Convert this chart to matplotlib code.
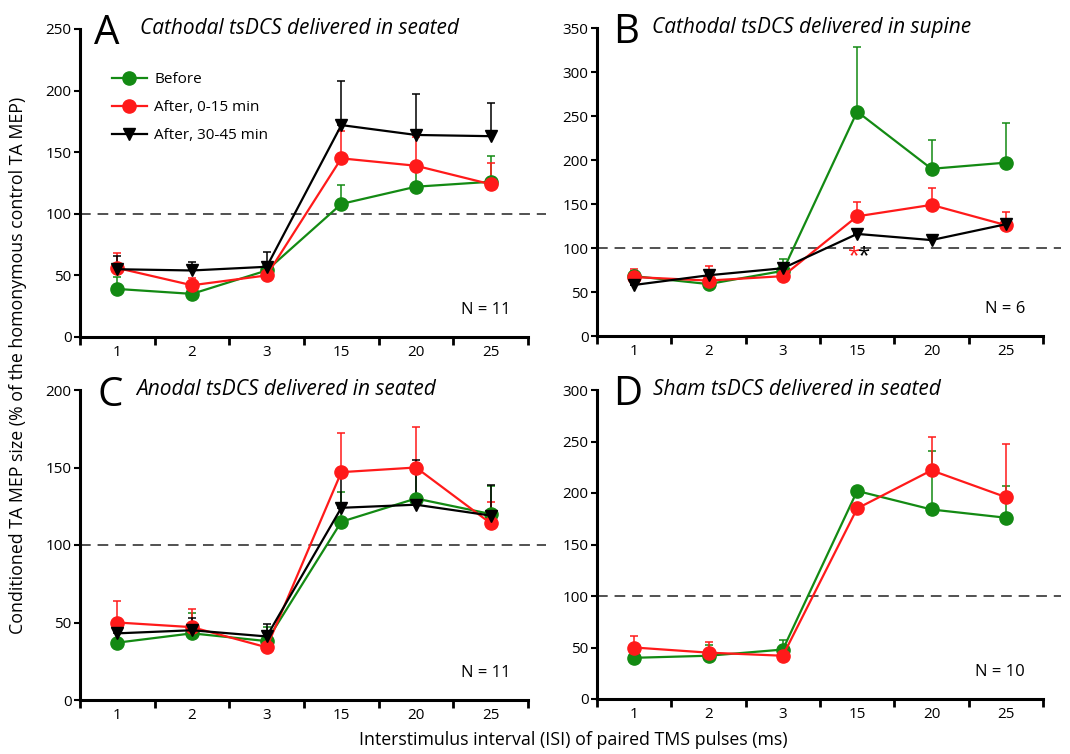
import matplotlib
matplotlib.use("Agg")
import matplotlib.pyplot as plt
import numpy as np

plt.rcParams['font.family'] = ['Open Sans', 'DejaVu Sans']

isi_labels = ["1", "2", "3", "15", "20", "25"]

# Panel A: Cathodal tsDCS seated (N=11)
A_before = [39, 35, 54, 108, 122, 126]
A_before_err = [10, 0, 0, 15, 16, 21]
A_after0 = [56, 42, 50, 145, 139, 124]
A_after0_err = [12, 6, 0, 22, 23, 17]
A_after30 = [55, 54, 57, 172, 164, 163]
A_after30_err = [11, 7, 12, 36, 33, 27]

# Panel B: Cathodal tsDCS supine (N=6)
B_before = [68, 59, 74, 255, 190, 197]
B_before_err = [6, 0, 13, 73, 33, 45]
B_after0 = [67, 63, 68, 136, 149, 126]
B_after0_err = [9, 16, 0, 16, 19, 15]
B_after30 = [58, 69, 77, 116, 109, 127]
B_after30_err = [0, 0, 0, 0, 0, 0]

# Panel C: Anodal tsDCS seated (N=11)
C_before = [37, 43, 38, 115, 130, 120]
C_before_err = [0, 13, 9, 19, 20, 18]
C_after0 = [50, 47, 34, 147, 150, 114]
C_after0_err = [14, 12, 0, 25, 26, 14]
C_after30 = [43, 45, 41, 124, 126, 119]
C_after30_err = [9, 8, 8, 26, 29, 20]

# Panel D: Sham tsDCS seated (N=10)
D_before = [40, 42, 48, 202, 184, 176]
D_before_err = [0, 10, 9, 0, 57, 31]
D_after0 = [50, 45, 42, 185, 222, 196]
D_after0_err = [11, 10, 0, 0, 32, 52]

GREEN = "#138a13"
RED = "#ff1a1a"
BLACK = "#000000"

x = np.arange(len(isi_labels)) + 0.5

fig = plt.figure(figsize=(10.7, 7.54), dpi=100)

W = 1070.0
H = 754.0
def ax_rect(left, right, top, bottom):
    return [left / W, 1 - bottom / H, (right - left) / W, (bottom - top) / H]

axA = fig.add_axes(ax_rect(80, 528, 29, 337))
axB = fig.add_axes(ax_rect(597, 1043, 28, 336))
axC = fig.add_axes(ax_rect(80, 528, 390, 700))
axD = fig.add_axes(ax_rect(597, 1043, 390, 699))


def draw_series(ax, vals, errs, color, marker, label):
    zero = np.zeros(len(errs))
    ax.errorbar(x, vals, yerr=[zero, errs], fmt='none', ecolor=color,
                elinewidth=1.1, capsize=3, capthick=1.1, zorder=2)
    ax.plot(x, vals, color=color, marker=marker, markersize=9.5 if marker == 'o' else 9,
            linewidth=1.6, label=label, zorder=3)


def style(ax, ymax, letter, title, ntext, letter_x, title_x):
    ax.set_xlim(0, 6)
    ax.set_ylim(0, ymax)
    ax.set_yticks(np.arange(0, ymax + 1, 50))
    ax.set_xticks(x)
    ax.set_xticklabels(isi_labels)
    ax.set_xticks(np.arange(0, 7), minor=True)
    ax.tick_params(axis='x', which='major', length=0, labelsize=11, pad=6)
    ax.tick_params(axis='x', which='minor', length=6, width=2, direction='out')
    ax.tick_params(axis='y', which='major', length=4, width=1.5, direction='out', labelsize=11, pad=2)
    for s in ['top', 'right']:
        ax.spines[s].set_visible(False)
    for s in ['left', 'bottom']:
        ax.spines[s].set_linewidth(2.2)
    ax.plot([0, 1.04], [100, 100], transform=ax.get_yaxis_transform(), clip_on=False,
            color='#222222', linestyle=(0, (7, 4.5)), linewidth=1.1, zorder=1)
    ax.text(letter_x, 0.95, letter, transform=ax.transAxes, fontsize=29,
            ha='left', va='baseline')
    ax.text(title_x, 0.985, title, transform=ax.transAxes, fontsize=15,
            style='italic', ha='left', va='baseline')
    ax.text(0.96, 0.075, ntext, transform=ax.transAxes, fontsize=12,
            ha='right', va='baseline')


# A
draw_series(axA, A_before, A_before_err, GREEN, 'o', 'Before')
draw_series(axA, A_after0, A_after0_err, RED, 'o', 'After, 0-15 min')
draw_series(axA, A_after30, A_after30_err, BLACK, 'v', 'After, 30-45 min')
style(axA, 250, 'A', 'Cathodal tsDCS delivered in seated', 'N = 11', 0.032, 0.134)
axA.legend(loc='upper left', bbox_to_anchor=(0.04, 0.905), frameon=False,
           fontsize=11, handlelength=2.3, labelspacing=0.85, handletextpad=0.5)

# B
draw_series(axB, B_before, B_before_err, GREEN, 'o', 'Before')
draw_series(axB, B_after0, B_after0_err, RED, 'o', 'After, 0-15 min')
draw_series(axB, B_after30, B_after30_err, BLACK, 'v', 'After, 30-45 min')
style(axB, 350, 'B', 'Cathodal tsDCS delivered in supine', 'N = 6', 0.036, 0.123)
axB.text(3.44, 91, '*', color=RED, fontsize=16, ha='center', va='center')
axB.text(3.58, 91, '*', color=BLACK, fontsize=16, ha='center', va='center')

# C
draw_series(axC, C_before, C_before_err, GREEN, 'o', 'Before')
draw_series(axC, C_after0, C_after0_err, RED, 'o', 'After, 0-15 min')
draw_series(axC, C_after30, C_after30_err, BLACK, 'v', 'After, 30-45 min')
style(axC, 200, 'C', 'Anodal tsDCS delivered in seated', 'N = 11', 0.038, 0.125)

# D
draw_series(axD, D_before, D_before_err, GREEN, 'o', 'Before')
draw_series(axD, D_after0, D_after0_err, RED, 'o', 'After, 0-15 min')
style(axD, 300, 'D', 'Sham tsDCS delivered in seated', 'N = 10', 0.036, 0.125)

fig.text(18 / W, 1 - 365 / H, 'Conditioned TA MEP size (% of the homonymous control TA MEP)',
         rotation=90, ha='center', va='center', fontsize=12.8)
fig.text(573 / W, 1 - 740 / H, 'Interstimulus interval (ISI) of paired TMS pulses (ms)',
         ha='center', va='center', fontsize=12.8)

fig.savefig('out.png', dpi=100)
